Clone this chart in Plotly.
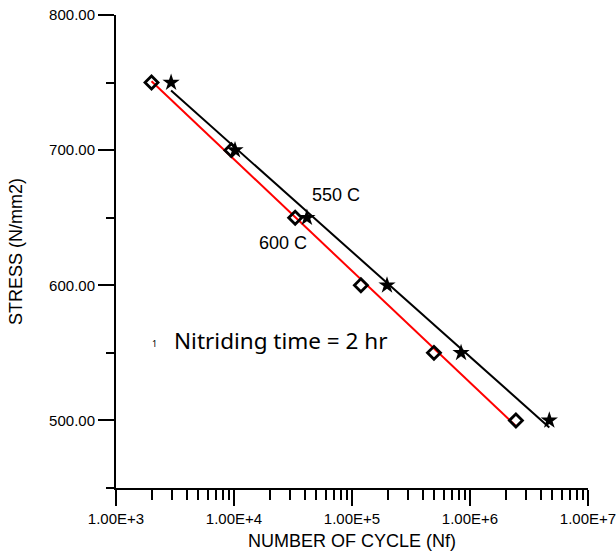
import numpy as np
import plotly.graph_objects as go

# Data
stress = [750, 700, 650, 600, 550, 500]
cycles_600C = [2.0e3, 9.5e3, 3.3e4, 1.19e5, 4.95e5, 2.45e6]
cycles_550C = [2.93e3, 1.02e4, 4.15e4, 1.98e5, 8.4e5, 4.7e6]
x_tickvals = [1e3, 1e4, 1e5, 1e6, 1e7]
x_ticktext = ["1.00E+3", "1.00E+4", "1.00E+5", "1.00E+6", "1.00E+7"]

FONT = "Arial, Liberation Sans, sans-serif"


def fit_line(cycles, s):
    lx = np.log10(cycles)
    a, b = np.polyfit(lx, s, 1)
    xs = np.array([lx.min(), lx.max()])
    return (10 ** xs).tolist(), (a * xs + b).tolist()


fig = go.Figure()

for cyc, color in [(cycles_550C, "black"), (cycles_600C, "#ff0000")]:
    fx, fy = fit_line(cyc, stress)
    fig.add_trace(go.Scatter(x=fx, y=fy, mode="lines",
                             line=dict(color=color, width=2),
                             hoverinfo="skip", showlegend=False))

fig.add_trace(go.Scatter(x=cycles_600C, y=stress, mode="markers", name="600 C",
                         marker=dict(symbol="diamond-open", size=10, color="black",
                                     line=dict(color="black", width=2.8)),
                         showlegend=False))
fig.add_trace(go.Scatter(x=cycles_550C, y=stress, mode="markers", name="550 C",
                         marker=dict(symbol="star", size=13, color="black",
                                     line=dict(width=0)),
                         showlegend=False))

minor_x = [m * 10 ** d for d in range(3, 7) for m in range(2, 10)]

fig.update_layout(
    width=616, height=552,
    margin=dict(l=116, r=28, t=15, b=64),
    plot_bgcolor="white", paper_bgcolor="white",
    font=dict(family=FONT, color="black", size=15),
    xaxis=dict(
        type="log", range=[3, 7], automargin=False,
        ticklabeloverflow="allow",
        showline=True, linecolor="black", linewidth=2,
        showgrid=False, zeroline=False,
        ticks="outside", ticklen=16, tickwidth=2, tickcolor="black",
        tickmode="array", tickvals=x_tickvals, ticktext=x_ticktext,
        tickfont=dict(size=15),
        minor=dict(ticks="outside", ticklen=10, tickwidth=2, tickcolor="black",
                   tickmode="array", tickvals=minor_x, showgrid=False),
        title=dict(text="NUMBER OF CYCLE (Nf)", font=dict(size=18), standoff=8),
    ),
    yaxis=dict(
        range=[450, 800], automargin=False,
        ticklabeloverflow="allow",
        showline=True, linecolor="black", linewidth=2,
        showgrid=False, zeroline=False,
        ticks="outside", ticklen=16, tickwidth=2, tickcolor="black",
        tick0=500, dtick=100, tickformat=".2f",
        tickfont=dict(size=15),
        minor=dict(ticks="outside", ticklen=8, tickwidth=2, tickcolor="black",
                   dtick=50, tick0=450, showgrid=False),
        title=dict(text="STRESS (N/mm2)", font=dict(size=18), standoff=22),
    ),
    annotations=[
        dict(text="550 C", x=0.466, y=0.619, xref="paper", yref="paper",
             showarrow=False, font=dict(size=18)),
        dict(text="600 C", x=0.354, y=0.518, xref="paper", yref="paper",
             showarrow=False, font=dict(size=18)),
        dict(text="1", x=0.072, y=0.287, xref="paper", yref="paper",
             showarrow=False, font=dict(size=9, family="Noto Sans, sans-serif")),
        dict(text="Nitriding time = 2 hr", x=0.1186, y=0.274, xref="paper", yref="paper",
             xanchor="left", showarrow=False, font=dict(size=22.5, family="Noto Sans, sans-serif")),
    ],
)

fig.write_html("out.html")
